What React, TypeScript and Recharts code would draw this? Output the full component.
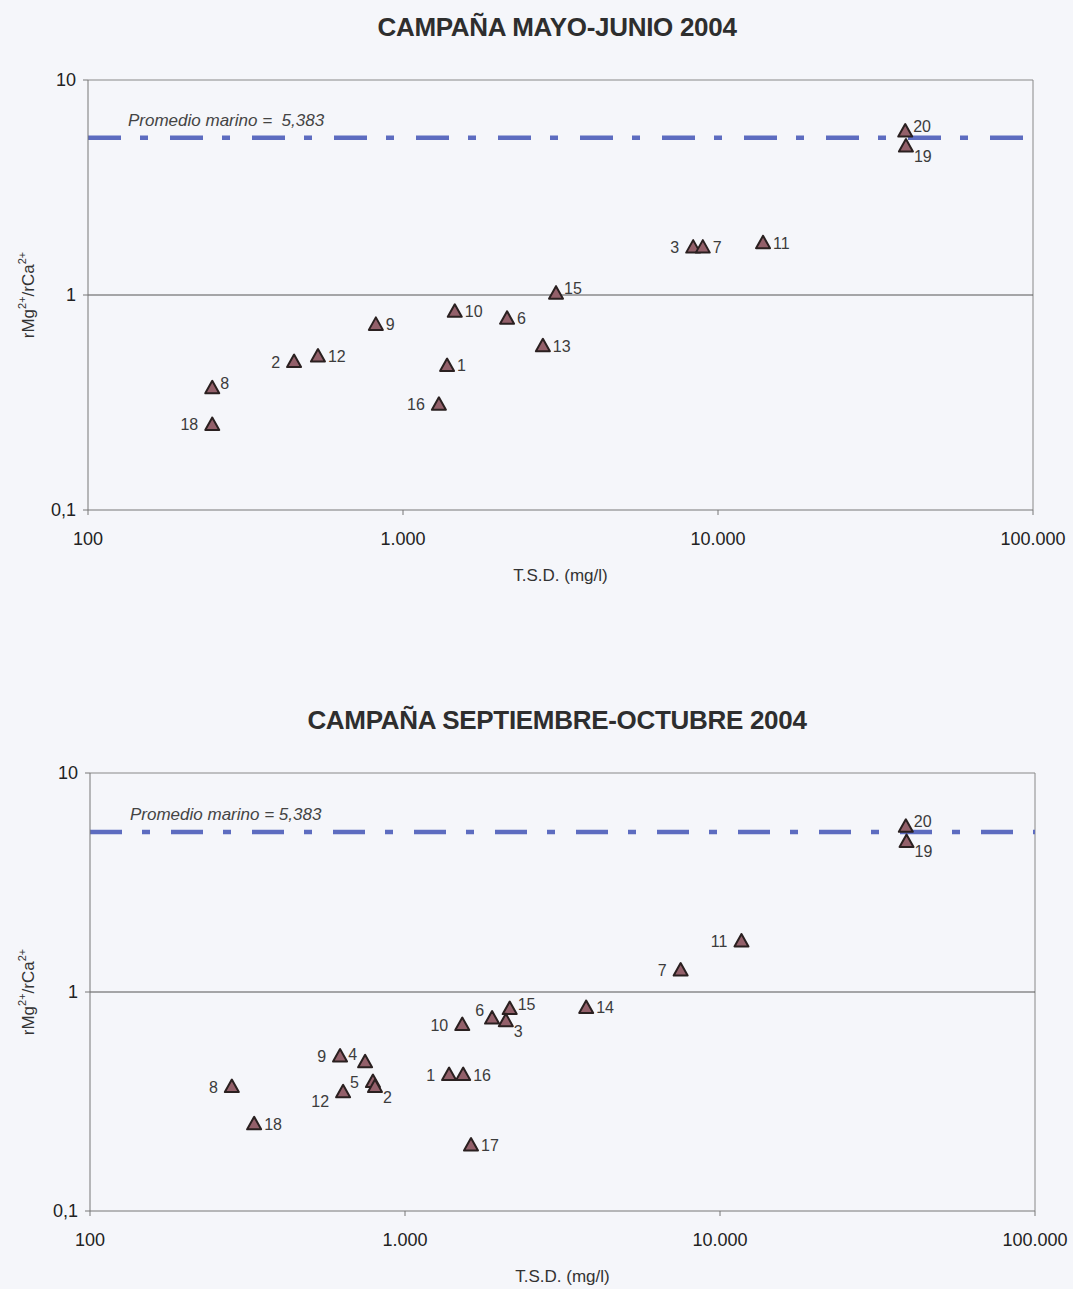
import React from 'react';
import { ScatterChart, Scatter, XAxis, YAxis, ReferenceLine } from 'recharts';

// campaña mayo-junio 2004
const mayIds = [20, 19, 3, 7, 11, 15, 10, 6, 13, 9, 1, 16, 2, 12, 8, 18];
const mayTsd = [39300, 39500, 8340, 8950, 13900, 3060, 1460, 2140, 2780, 820, 1380, 1300, 451, 537, 248, 248];
const mayRatio = [5.79, 4.93, 1.67, 1.67, 1.75, 1.02, 0.84, 0.78, 0.58, 0.73, 0.47, 0.31, 0.49, 0.52, 0.37, 0.25];

// campaña septiembre-octubre 2004
const sepIds = [20, 19, 11, 7, 14, 15, 3, 6, 10, 1, 16, 17, 9, 4, 5, 2, 12, 8, 18];
const sepTsd = [38900, 39100, 11700, 7500, 3760, 2150, 2090, 1890, 1520, 1380, 1530, 1620, 622, 747, 791, 803, 636, 282, 332];
const sepRatio = [5.71, 4.87, 1.71, 1.26, 0.85, 0.84, 0.74, 0.76, 0.71, 0.42, 0.42, 0.2, 0.51, 0.48, 0.39, 0.37, 0.35, 0.37, 0.25];

const marineMean = 5.383;
const xTicks = [100, 1000, 10000, 100000];
const yTicks = [0.1, 1, 10];

// where each point label sits (r, l, ru, rd, lu, ld)
const mayLabelSide: Record<number, string> = {
  20: 'ru', 19: 'rd', 3: 'l', 7: 'r', 11: 'r', 15: 'ru', 10: 'r', 6: 'r', 13: 'r',
  9: 'r', 1: 'r', 16: 'l', 2: 'l', 12: 'r', 8: 'ru', 18: 'l',
};
const sepLabelSide: Record<number, string> = {
  20: 'ru', 19: 'rd', 11: 'l', 7: 'l', 14: 'r', 15: 'ru', 3: 'rd', 6: 'lu', 10: 'l',
  1: 'l', 16: 'r', 17: 'r', 9: 'l', 4: 'lu', 5: 'l', 2: 'rd', 12: 'ld', 8: 'l', 18: 'r',
};

const FONT = "'Liberation Sans', Arial, sans-serif";
const BG = '#f5f6fa';

const build = (ids: number[], tsd: number[], ratio: number[], sides: Record<number, string>) =>
  ids.map((id, i) => ({ id, x: tsd[i], y: ratio[i], side: sides[id] || 'r' }));

const mayData = build(mayIds, mayTsd, mayRatio, mayLabelSide);
const sepData = build(sepIds, sepTsd, sepRatio, sepLabelSide);

const fmtX = (v: number) => v.toLocaleString('de-DE');
const fmtY = (v: number) => String(v).replace('.', ',');

const TriangleMark = (props: any) => {
  const { cx, cy, payload } = props;
  if (cx == null || cy == null) return null;
  const side: string = payload.side;
  let tx = cx + 10;
  let ty = cy + 6;
  let anchor: 'start' | 'end' = 'start';
  if (side === 'l') { tx = cx - 14; anchor = 'end'; }
  if (side === 'ru') { tx = cx + 8; ty = cy + 1; }
  if (side === 'rd') { tx = cx + 8; ty = cy + 16; }
  if (side === 'lu') { tx = cx - 8; ty = cy - 2; anchor = 'end'; }
  if (side === 'ld') { tx = cx - 14; ty = cy + 15; anchor = 'end'; }
  return (
    <g>
      <polygon
        points={`${cx},${cy - 7} ${cx - 7},${cy + 5.5} ${cx + 7},${cy + 5.5}`}
        fill="#93606a"
        stroke="#2a2020"
        strokeWidth={2}
        strokeLinejoin="round"
      />
      <text x={tx} y={ty} textAnchor={anchor} fontSize={16} fill="#3c3c3c" fontFamily={FONT}>
        {payload.id}
      </text>
    </g>
  );
};

const YTitle = (props: any) => {
  const vb = props.viewBox || {};
  const cy = vb.y + vb.height / 2;
  const cx = 34;
  return (
    <text
      x={cx}
      y={cy}
      transform={`rotate(-90, ${cx}, ${cy})`}
      textAnchor="middle"
      fontSize={17}
      fill="#333"
      fontFamily={FONT}
    >
      rMg
      <tspan fontSize={11} dy={-8}>2+</tspan>
      <tspan fontSize={17} dy={8}>/rCa</tspan>
      <tspan fontSize={11} dy={-8}>2+</tspan>
    </text>
  );
};

const MarineLabel = (props: any) => {
  const vb = props.viewBox || {};
  return (
    <text
      x={vb.x + 40}
      y={vb.y - 12}
      fontSize={17}
      fontStyle="italic"
      fill="#444"
      fontFamily={FONT}
    >
      {props.text}
    </text>
  );
};

interface PanelProps {
  data: { id: number; x: number; y: number; side: string }[];
  height: number;
  margin: { top: number; right: number; bottom: number; left: number };
  marineText: string;
  dash: string;
}

const Panel: React.FC<PanelProps> = ({ data, height, margin, marineText, dash }) => (
  <ScatterChart width={1073} height={height} margin={margin}>
    <XAxis
      type="number"
      dataKey="x"
      scale="log"
      domain={[100, 100000]}
      ticks={xTicks}
      tickFormatter={fmtX}
      allowDataOverflow
      stroke="#777"
      tick={{ fill: '#222', fontSize: 18, fontFamily: FONT }}
      tickSize={5}
      tickMargin={17}
      height={78}
      label={{ value: 'T.S.D. (mg/l)', position: 'insideBottom', offset: 7, fill: '#333', fontSize: 17, fontFamily: FONT }}
    />
    <YAxis
      type="number"
      dataKey="y"
      scale="log"
      domain={[0.1, 10]}
      ticks={yTicks}
      tickFormatter={fmtY}
      allowDataOverflow
      stroke="#777"
      tick={{ fill: '#222', fontSize: 18, fontFamily: FONT }}
      tickSize={5}
      tickMargin={7}
      width={60}
      label={<YTitle />}
    />
    <ReferenceLine y={10} stroke="#888" strokeWidth={1} />
    <ReferenceLine x={100000} stroke="#888" strokeWidth={1} />
    <ReferenceLine y={1} stroke="#555" strokeWidth={1} />
    <ReferenceLine
      y={marineMean}
      stroke="#5d6cc0"
      strokeWidth={4.5}
      strokeDasharray={dash}
      label={<MarineLabel text={marineText} />}
    />
    <Scatter data={data} shape={TriangleMark} isAnimationActive={false} />
  </ScatterChart>
);

const titleStyle: React.CSSProperties = {
  position: 'absolute',
  left: 40,
  width: 1034,
  textAlign: 'center',
  fontFamily: FONT,
  fontWeight: 'bold',
  fontSize: 26,
  color: '#2e2e2e',
  lineHeight: '28px',
  letterSpacing: '-0.3px',
};

export default function App() {
  return (
    <div style={{ position: 'absolute', top: 0, left: 0, width: 1073, height: 1289, background: BG, overflow: 'hidden' }}>
      <div style={{ ...titleStyle, top: 13 }}>CAMPAÑA MAYO-JUNIO 2004</div>
      <div style={{ position: 'absolute', top: 0, left: 0 }}>
        <Panel
          data={mayData}
          height={600}
          margin={{ top: 80, right: 40, bottom: 12, left: 28 }}
          marineText={'Promedio marino =\u00a0\u00a05,383'}
          dash="33 19 8 22"
        />
      </div>
      <div style={{ ...titleStyle, top: 706 }}>CAMPAÑA SEPTIEMBRE-OCTUBRE 2004</div>
      <div style={{ position: 'absolute', top: 690, left: 0 }}>
        <Panel
          data={sepData}
          height={599}
          margin={{ top: 83, right: 38, bottom: 0, left: 30 }}
          marineText={'Promedio marino = 5,383'}
          dash="32 20 8 21"
        />
      </div>
    </div>
  );
}
